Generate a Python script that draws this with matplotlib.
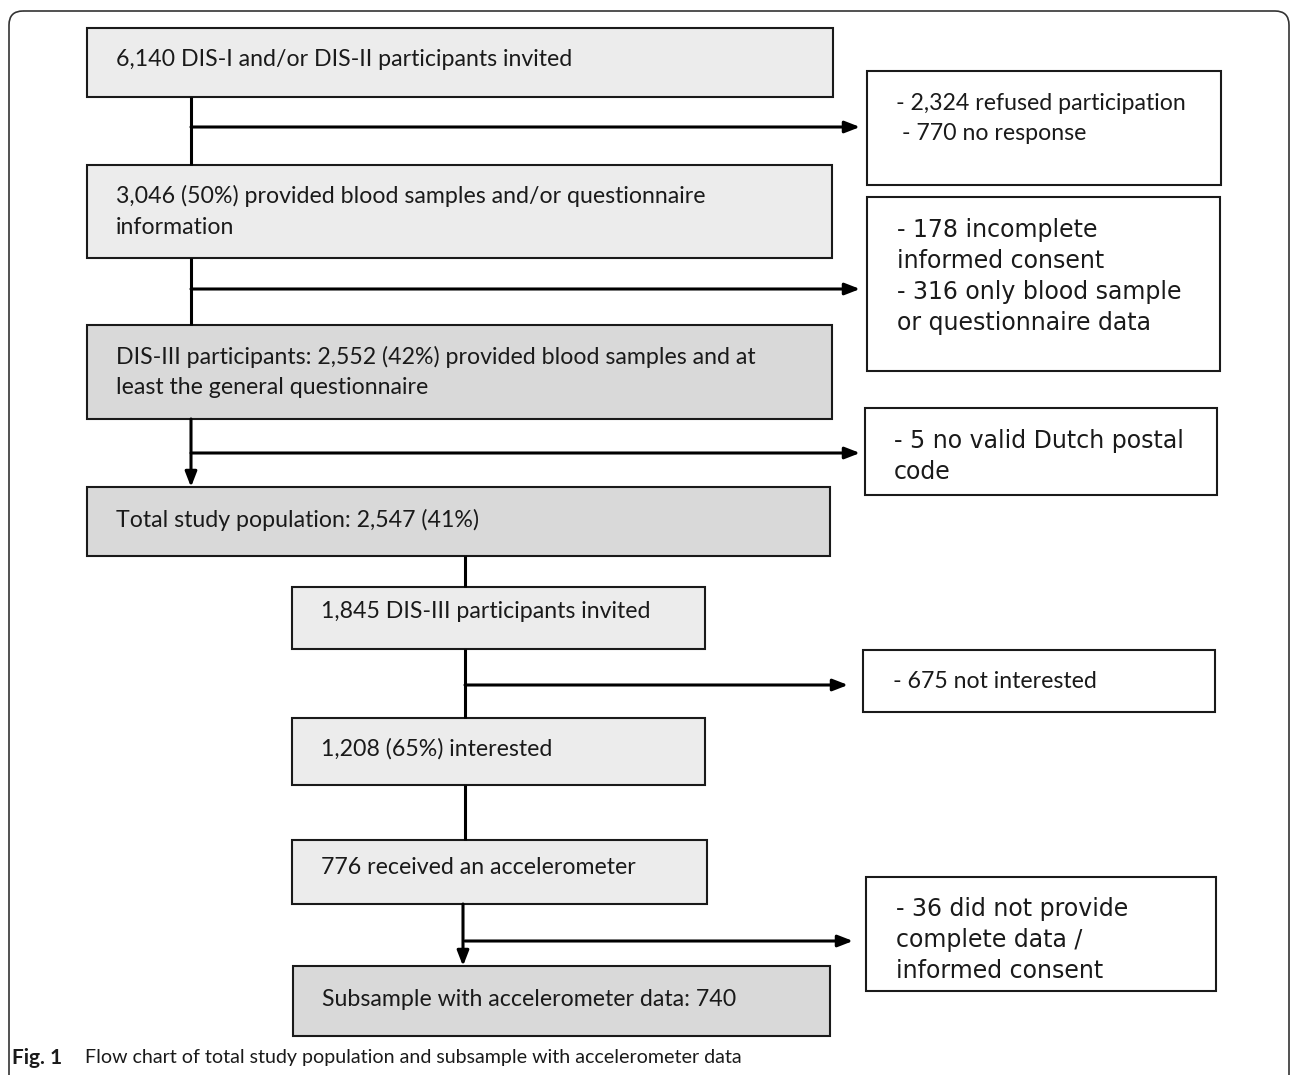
import matplotlib
matplotlib.use("Agg")
import matplotlib.pyplot as plt
from matplotlib.patches import Rectangle, FancyBboxPatch

# main flow boxes (text lines)
main_labels = [
    ["6,140 DIS-I and/or DIS-II participants invited"],
    ["3,046 (50%) provided blood samples and/or questionnaire", "information"],
    ["DIS-III participants: 2,552 (42%) provided blood samples and at", "least the general questionnaire"],
    ["Total study population: 2,547 (41%)"],
    ["1,845 DIS-III participants invited"],
    ["1,208 (65%) interested"],
    ["776 received an accelerometer"],
    ["Subsample with accelerometer data: 740"],
]
main_shade = ["light", "light", "dark", "dark", "light", "light", "light", "dark"]

# exclusion boxes on the right
excl_labels = [
    ["- 2,324 refused participation", " - 770 no response"],
    ["- 178 incomplete", "informed consent", "- 316 only blood sample", "or questionnaire data"],
    ["- 5 no valid Dutch postal", "code"],
    ["- 675 not interested"],
    ["- 36 did not provide", "complete data /", "informed consent"],
]
excl_font = ["calibri", "wide", "wide", "calibri", "wide"]

caption_bold = "Fig. 1"
caption_text = "Flow chart of total study population and subsample with accelerometer data"

# layout (pixels): x0, y0, x1, y1
main_pos = [
    (87, 28, 833, 97),
    (87, 165, 832, 258),
    (87, 325, 832, 419),
    (87, 487, 830, 556),
    (292, 587, 705, 649),
    (292, 718, 705, 785),
    (292, 840, 707, 904),
    (293, 966, 830, 1036),
]
excl_pos = [
    (867, 71, 1221, 185),
    (867, 197, 1220, 371),
    (865, 408, 1217, 495),
    (863, 650, 1215, 712),
    (866, 877, 1216, 991),
]
main_text_y = [60, 196, 357, 520, 612, 749, 867, 999]
excl_text_y = [103, 230, 441, 682, 909]
excl_text_x = [896, 897, 894, 893, 896]

fills = {"light": "#ececec", "dark": "#d9d9d9"}
fonts = {"calibri": ("Lato", 16.7, 31), "wide": ("DejaVu Sans", 17.0, 31)}

W, H = 1293, 1075
fig = plt.figure(figsize=(W / 100, H / 100), dpi=100)
ax = fig.add_axes([0, 0, 1, 1])
ax.set_xlim(0, W)
ax.set_ylim(H, 0)
ax.axis("off")

# outer rounded frame (runs off the bottom)
frame = FancyBboxPatch((9, 11), 1280, 1100, boxstyle="round,pad=0,rounding_size=14",
                       facecolor="none", edgecolor="#333333", linewidth=1.2)
ax.add_patch(frame)

for lines, shade, (x0, y0, x1, y1), ty in zip(main_labels, main_shade, main_pos, main_text_y):
    ax.add_patch(Rectangle((x0, y0), x1 - x0, y1 - y0, facecolor=fills[shade],
                           edgecolor="#1a1a1a", linewidth=1.5))
    for i, line in enumerate(lines):
        ax.text(x0 + 29, ty + i * 31, line, fontsize=16.7, family="Lato",
                va="center", ha="left", color="#1a1a1a")

for lines, fkey, (x0, y0, x1, y1), ty, tx in zip(excl_labels, excl_font, excl_pos, excl_text_y, excl_text_x):
    fam, size, step = fonts[fkey]
    ax.add_patch(Rectangle((x0, y0), x1 - x0, y1 - y0, facecolor="white",
                           edgecolor="#1a1a1a", linewidth=1.5))
    for i, line in enumerate(lines):
        ax.text(tx, ty + i * step, line, fontsize=size, family=fam,
                va="center", ha="left", color="#1a1a1a")

line_kw = dict(color="black", linewidth=2.2, solid_capstyle="butt")
arrow_kw = dict(arrowstyle="-|>,head_length=0.9,head_width=0.35", color="black",
                linewidth=2.2, shrinkA=0, shrinkB=0)

# main spine of the top part
ax.plot([191, 191], [97, 165], **line_kw)
ax.plot([191, 191], [258, 325], **line_kw)
ax.annotate("", xy=(191, 487), xytext=(191, 419), arrowprops=arrow_kw)
# side arrows
for y, xe in [(127, 860), (289, 860), (453, 860), (685, 848), (941, 853)]:
    xs = 191 if y < 480 else 465
    ax.annotate("", xy=(xe, y), xytext=(xs, y), arrowprops=arrow_kw)

# lower spine
ax.plot([465, 465], [556, 587], **line_kw)
ax.plot([465, 465], [649, 718], **line_kw)
ax.plot([465, 465], [785, 840], **line_kw)
ax.annotate("", xy=(463, 966), xytext=(463, 904), arrowprops=arrow_kw)

# caption
ax.text(12, 1058, caption_bold, fontsize=15, family="Lato", fontweight="bold",
        va="center", ha="left", color="#1a1a1a")
ax.text(85, 1058, caption_text, fontsize=14.1, family="Lato",
        va="center", ha="left", color="#1a1a1a")

fig.savefig("out.png", dpi=100)
